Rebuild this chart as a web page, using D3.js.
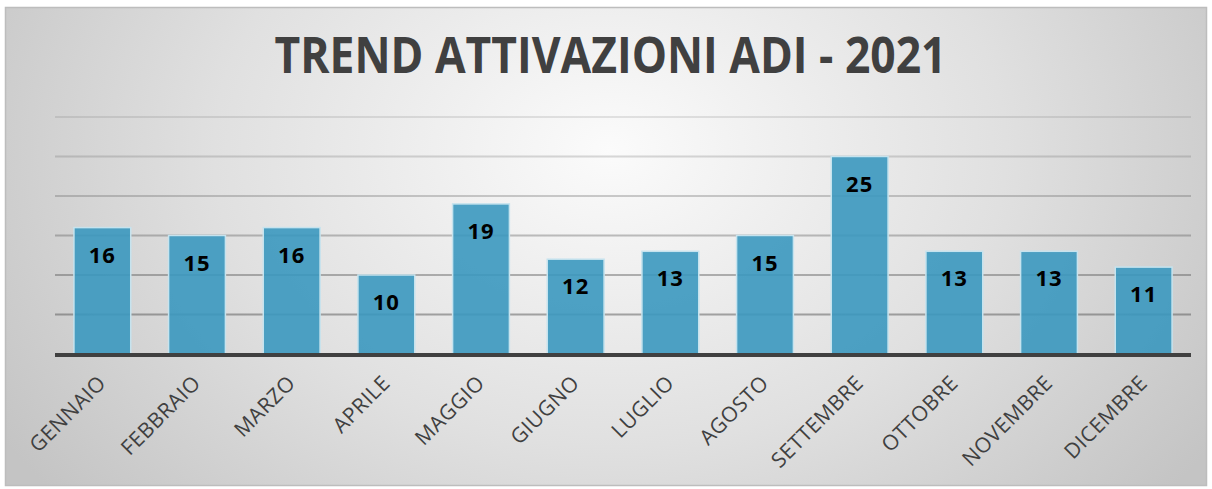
<!DOCTYPE html>
<html>
<head>
<meta charset="utf-8">
<script src="https://cdn.jsdelivr.net/npm/d3@7"></script>
<style>
    body { margin: 0; background: #fff; }
    #chart { width: 1212px; height: 489px; }
</style>
</head>
<body>
<div id="chart"></div>
<script>
// data
var months = ['GENNAIO', 'FEBBRAIO', 'MARZO', 'APRILE', 'MAGGIO', 'GIUGNO',
    'LUGLIO', 'AGOSTO', 'SETTEMBRE', 'OTTOBRE', 'NOVEMBRE', 'DICEMBRE'];
var attivazioni = [16, 15, 16, 10, 19, 12, 13, 15, 25, 13, 13, 11];
var gridValues = [5, 10, 15, 20, 25, 30];
var title = 'TREND ATTIVAZIONI ADI - 2021';

var W = 1212, H = 489;
var margin = { top: 117, right: 21, bottom: 135, left: 55 };
var width = W - margin.left - margin.right,
    height = H - margin.top - margin.bottom;

var svg = d3.select('#chart').append('svg')
    .attr('width', W)
    .attr('height', H);

// background gradient
var defs = svg.append('defs');
var grad = defs.append('radialGradient')
    .attr('id', 'bg')
    .attr('gradientUnits', 'userSpaceOnUse')
    .attr('cx', 610).attr('cy', 150).attr('r', 720)
    .attr('gradientTransform', 'translate(610,150) scale(1,0.75) translate(-610,-150)');
grad.append('stop').attr('offset', '0%').attr('stop-color', '#fbfbfb');
grad.append('stop').attr('offset', '55%').attr('stop-color', '#e0e0e0');
grad.append('stop').attr('offset', '100%').attr('stop-color', '#c4c4c4');

svg.append('rect')
    .attr('x', 5.5).attr('y', 7.5)
    .attr('width', 1201).attr('height', 478)
    .attr('fill', 'url(#bg)')
    .attr('stroke', '#bdbdbd')
    .attr('stroke-width', 1.5);

// title, squeezed a little to the width seen in the picture
svg.append('text')
    .attr('x', 610.5)
    .attr('y', 73)
    .attr('text-anchor', 'middle')
    .attr('textLength', 672)
    .attr('lengthAdjust', 'spacingAndGlyphs')
    .style('font-family', 'Open Sans, sans-serif')
    .style('font-weight', 'bold')
    .style('font-size', '51px')
    .style('fill', '#404040')
    .text(title);

var g = svg.append('g')
    .attr('transform', 'translate(' + margin.left + ',' + margin.top + ')');

var x = d3.scaleBand()
    .domain(months)
    .range([0, width])
    .paddingInner(0.4)
    .paddingOuter(0.2);

var y = d3.scaleLinear()
    .domain([0, 30])
    .range([height, 0]);

// gridlines, fading toward the top
var opacity = d3.scaleLinear().domain([5, 30]).range([0.5, 0.15]);
g.selectAll('line.grid')
    .data(gridValues)
    .enter().append('line')
    .attr('class', 'grid')
    .attr('x1', 0).attr('x2', width)
    .attr('y1', function (d) { return y(d); })
    .attr('y2', function (d) { return y(d); })
    .attr('stroke', '#555')
    .attr('stroke-opacity', function (d) { return opacity(d); })
    .attr('stroke-width', 2);

// bars
g.selectAll('rect.bar')
    .data(attivazioni)
    .enter().append('rect')
    .attr('class', 'bar')
    .attr('x', function (d, i) { return x(months[i]); })
    .attr('y', function (d) { return y(d); })
    .attr('width', x.bandwidth())
    .attr('height', function (d) { return height - y(d); })
    .attr('fill', '#3b98bf')
    .attr('fill-opacity', 0.9)
    .attr('stroke', '#c6e3ee')
    .attr('stroke-width', 1.5);

// value labels
g.selectAll('text.val')
    .data(attivazioni)
    .enter().append('text')
    .attr('class', 'val')
    .attr('x', function (d, i) { return x(months[i]) + x.bandwidth() / 2; })
    .attr('y', function (d) { return y(d) + 35; })
    .attr('text-anchor', 'middle')
    .style('font-family', 'Open Sans, sans-serif')
    .style('font-weight', 'bold')
    .style('font-size', '22px')
    .style('letter-spacing', '1px')
    .style('fill', '#000')
    .text(function (d) { return d; });

// baseline
g.append('line')
    .attr('x1', 0).attr('x2', width)
    .attr('y1', height + 1).attr('y2', height + 1)
    .attr('stroke', '#404040')
    .attr('stroke-width', 4);

// category labels
var xAxis = g.append('g')
    .attr('transform', 'translate(0,' + height + ')')
    .call(d3.axisBottom(x).tickSize(0).tickPadding(0));
xAxis.select('.domain').remove();
xAxis.selectAll('text')
    .attr('x', -18)
    .attr('y', 25)
    .attr('dy', 0)
    .attr('transform', 'rotate(-45)')
    .style('text-anchor', 'end')
    .style('font-family', 'Open Sans, sans-serif')
    .style('font-size', '21px')
    .style('letter-spacing', '0.5px')
    .style('fill', '#404040');
</script>
</body>
</html>
